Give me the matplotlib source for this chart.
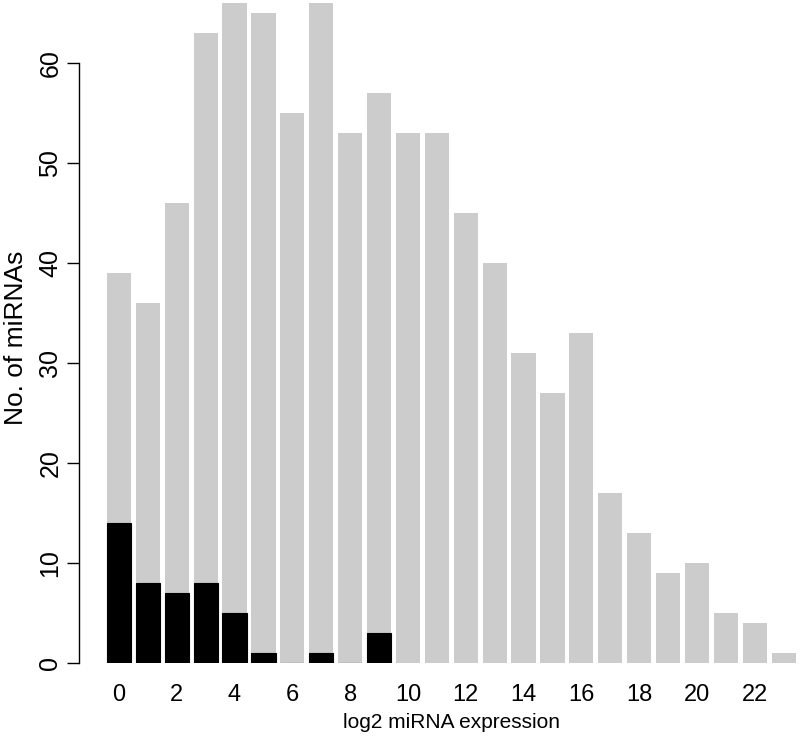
import numpy as np
import matplotlib
matplotlib.use("Agg")
import matplotlib.pyplot as plt

# log2 expression bins 0..23
bins = list(range(24))
all_counts = [39, 36, 46, 63, 66, 65, 55, 66, 53, 57, 53, 53,
              45, 40, 31, 27, 33, 17, 13, 9, 10, 5, 4, 1]
sub_counts = [14, 8, 7, 8, 5, 1, 0, 1, 0, 3]
xtick_labels = [str(v) for v in range(0, 23, 2)]
ytick_values = [0, 10, 20, 30, 40, 50, 60]

plt.rcParams['font.family'] = ['Liberation Sans', 'DejaVu Sans']

fig = plt.figure(figsize=(8, 7.43), dpi=100)
ax = fig.add_axes([104.5 / 800, 80 / 743, 693.6 / 800, 663 / 743])

w = 0.84
ax.bar(bins, all_counts, width=w, color='#cccccc', linewidth=0)
ax.bar(bins[:len(sub_counts)], sub_counts, width=w, color='black',
       edgecolor='black', linewidth=0.8)

ax.set_xlim(-0.5, 23.5)
ax.set_ylim(0, 66.3)

for s in ['top', 'right', 'bottom']:
    ax.spines[s].set_visible(False)
ax.spines['left'].set_position(('outward', 18.4))
ax.spines['left'].set_bounds(0, 60)
ax.spines['left'].set_linewidth(1)

ax.set_yticks(ytick_values)
ax.set_yticklabels([str(v) for v in ytick_values], rotation=90, va='center')
ax.tick_params(axis='y', length=9, width=1, pad=3, labelsize=18)

ax.set_xticks(range(0, 23, 2))
ax.set_xticklabels(xtick_labels)
ax.tick_params(axis='x', length=0, pad=15, labelsize=17)

ax.set_ylabel("No. of miRNAs", fontsize=19)
ax.yaxis.label.set_va('center')
ax.yaxis.set_label_coords(-0.1276, 0.49)
ax.set_xlabel("log2 miRNA expression", fontsize=15)
ax.xaxis.set_label_coords(0.5, -0.089)
ax.xaxis.label.set_va('center')

fig.savefig("out.png", dpi=100)
